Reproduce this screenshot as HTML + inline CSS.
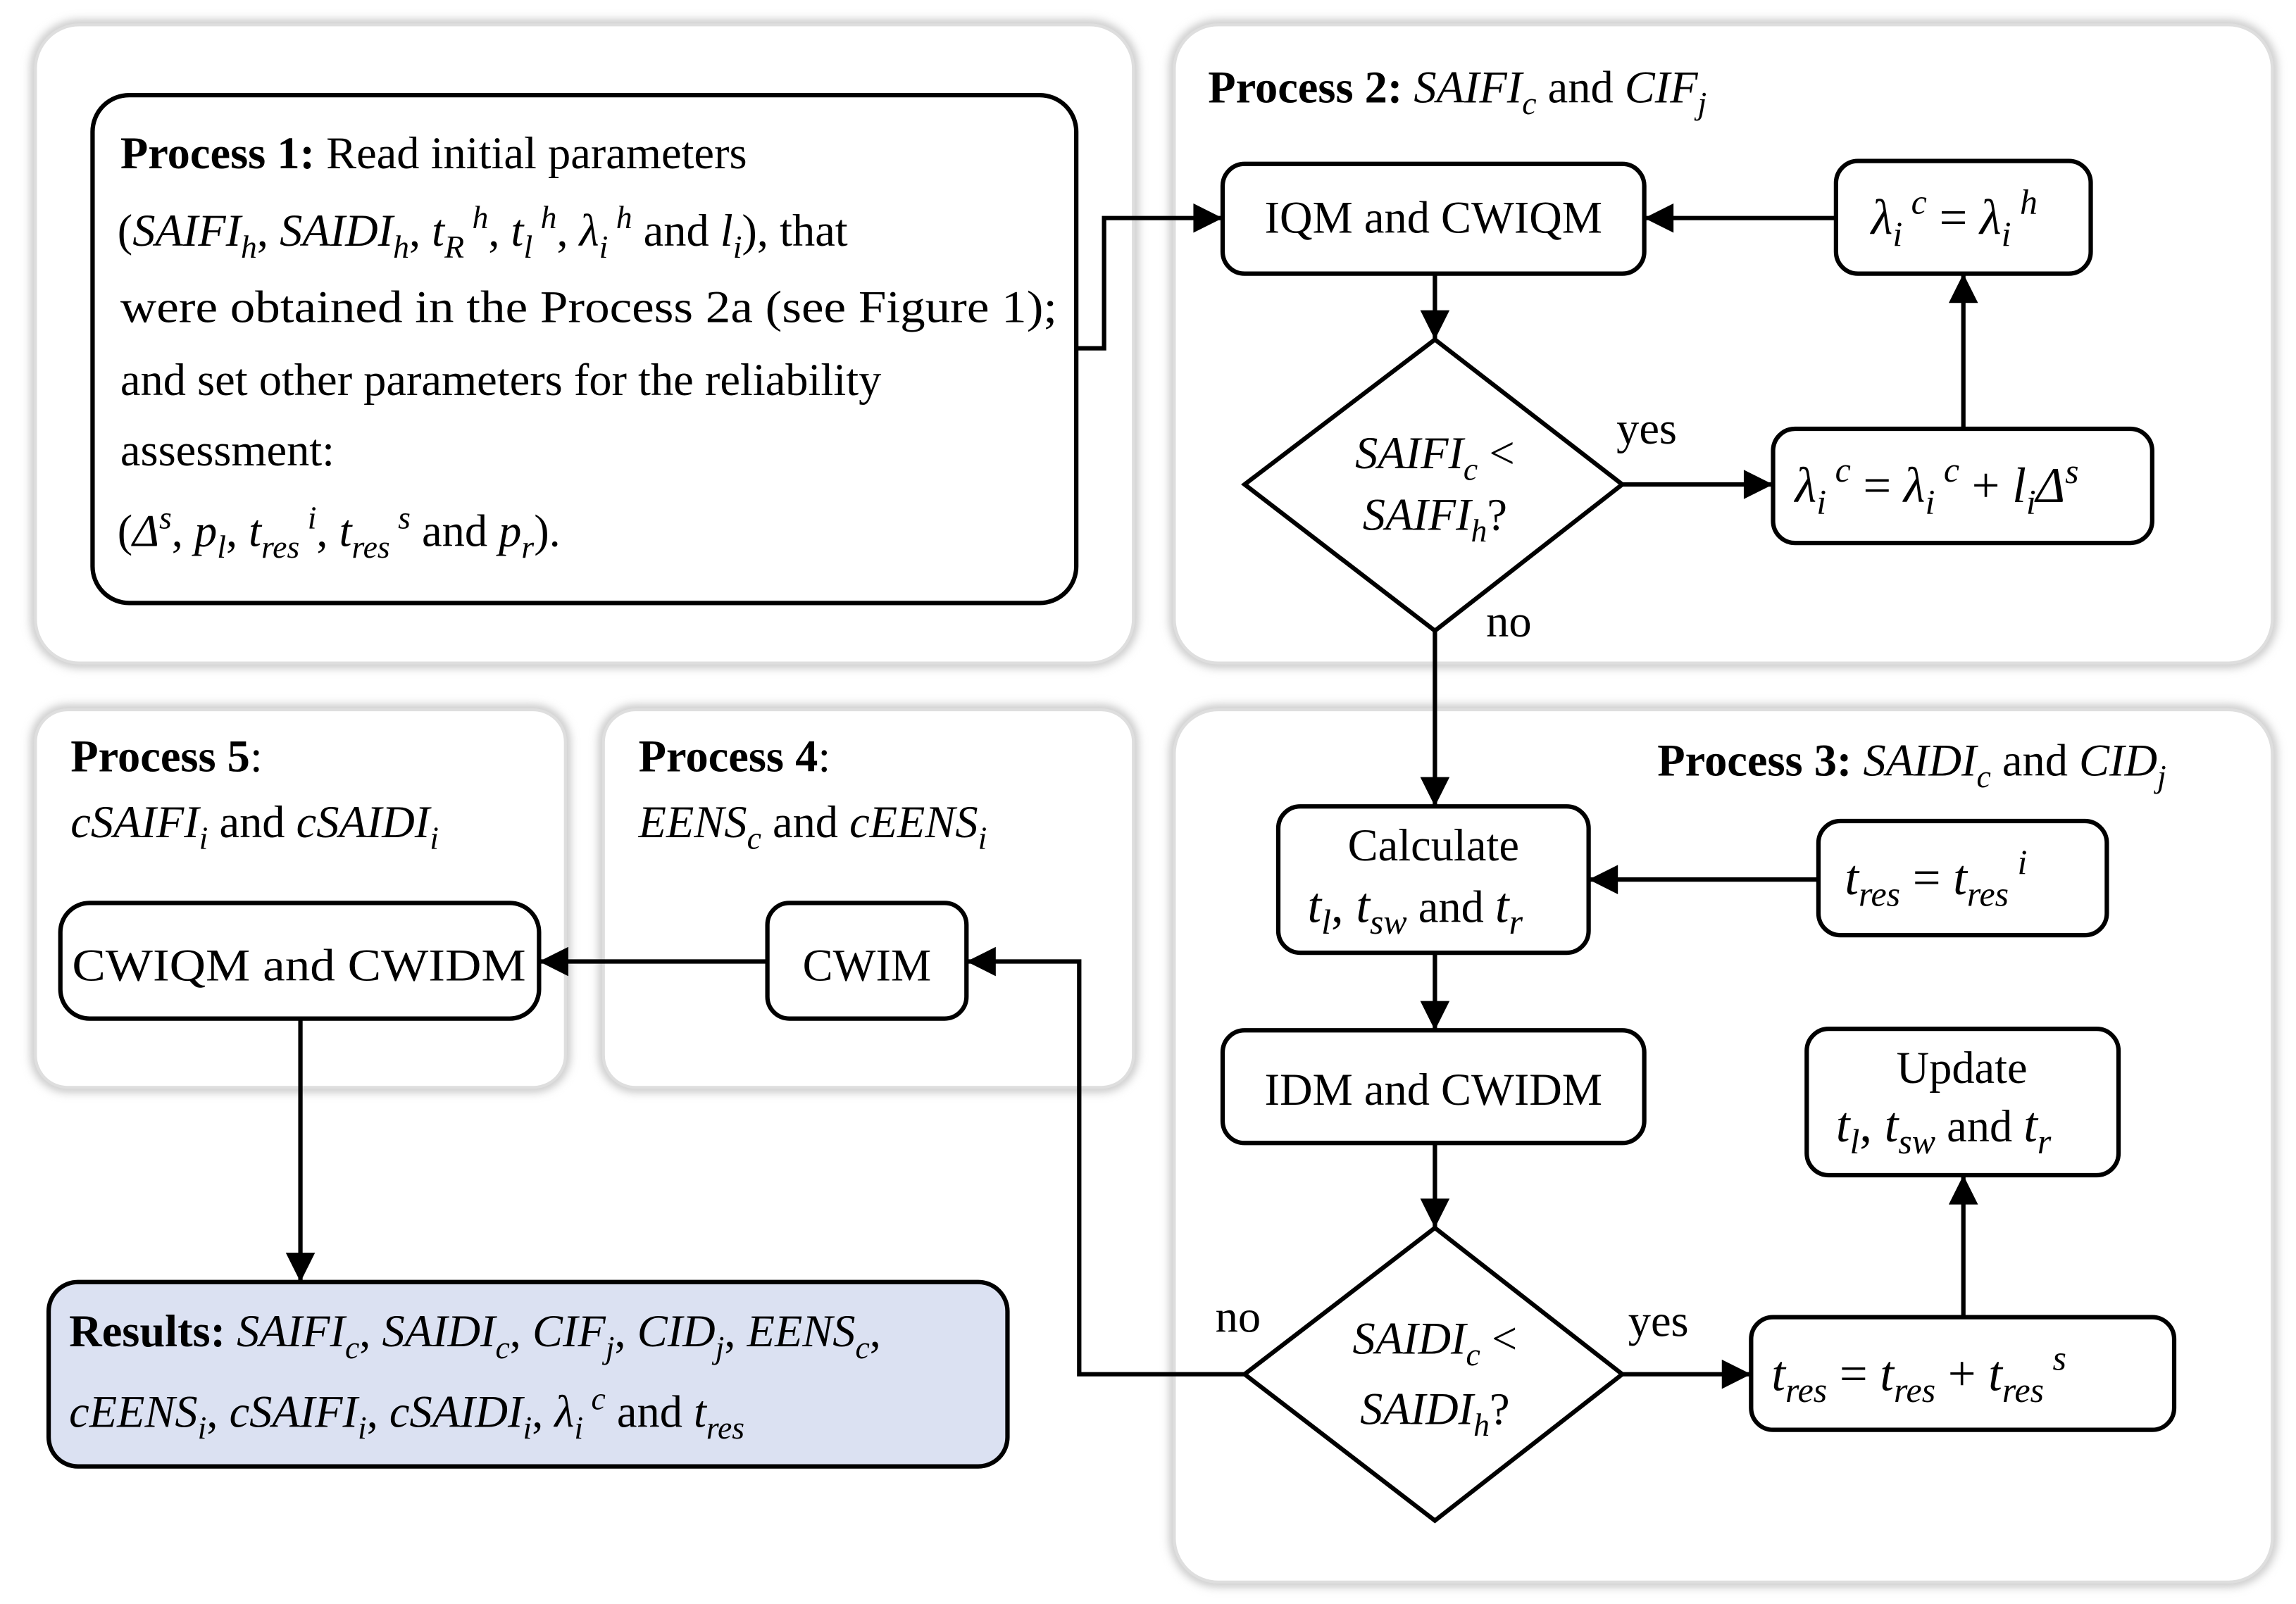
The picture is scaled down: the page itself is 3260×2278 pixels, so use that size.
<!DOCTYPE html>
<html><head><meta charset="utf-8"><style>
html,body{margin:0;padding:0;background:#fff;}
svg{display:block;}
text{font-family:"Liberation Serif",serif;font-size:31px;fill:#000;}
.i{font-style:italic;}
.b{font-weight:bold;}
.s{font-size:22px;}
.m{font-size:34px;}
.m .s{font-size:24px;}
</style></head><body>
<svg width="3260" height="2278" viewBox="0 0 1568 1096" xmlns="http://www.w3.org/2000/svg">
<defs>
<filter id="sh" x="-5%" y="-5%" width="110%" height="110%"><feGaussianBlur stdDeviation="3"/></filter>
<marker id="ar" viewBox="0 0 10 10" refX="10" refY="5" markerWidth="22" markerHeight="20" markerUnits="userSpaceOnUse" orient="auto"><path d="M0,0L10,5L0,10z" fill="#000"/></marker>
</defs>
<g fill="none" stroke="#c8c8c8" stroke-width="7" filter="url(#sh)">
<rect x="24" y="17" width="750" height="436" rx="30"/>
<rect x="802" y="17" width="750" height="436" rx="30"/>
<rect x="24" y="485" width="362" height="258" rx="22"/>
<rect x="412" y="485" width="362" height="258" rx="22"/>
<rect x="802" y="485" width="750" height="596" rx="30"/>
</g>
<g fill="#fff" stroke="#dedede" stroke-width="2">
<rect x="24" y="17" width="750" height="436" rx="30"/>
<rect x="802" y="17" width="750" height="436" rx="30"/>
<rect x="24" y="485" width="362" height="258" rx="22"/>
<rect x="412" y="485" width="362" height="258" rx="22"/>
<rect x="802" y="485" width="750" height="596" rx="30"/>
</g>
<g fill="#fff" stroke="#000" stroke-width="3">
<rect x="63" y="65" width="672" height="347" rx="25"/>
<rect x="835" y="112" width="288" height="75" rx="15"/>
<rect x="1254" y="110" width="174" height="77" rx="15"/>
<polygon points="980,232 1108,331 980,431 850,331"/>
<rect x="1211" y="293" width="259" height="78" rx="15"/>
<rect x="873" y="551" width="212" height="100" rx="15"/>
<rect x="1242" y="561" width="197" height="78" rx="15"/>
<rect x="835" y="704" width="288" height="77" rx="15"/>
<rect x="1234" y="703" width="213" height="100" rx="15"/>
<polygon points="980,839 1108,939 980,1039 850,939"/>
<rect x="1196" y="900" width="289" height="77" rx="15"/>
<rect x="41" y="617" width="327" height="79" rx="20"/>
<rect x="524" y="617" width="136" height="79" rx="15"/>
<rect x="33" y="876" width="655" height="126" rx="20" fill="#dbe1f2"/>
</g>
<g fill="none" stroke="#000" stroke-width="3" marker-end="url(#ar)">
<path d="M735,238H754V149H835"/>
<path d="M1254,149H1123"/>
<path d="M980,187V232"/>
<path d="M1108,331H1211"/>
<path d="M1341,293V187"/>
<path d="M980,431V551"/>
<path d="M1242,601H1085"/>
<path d="M980,651V704"/>
<path d="M980,781V839"/>
<path d="M1108,939H1196"/>
<path d="M1341,900V803"/>
<path d="M850,939H737V657H660"/>
<path d="M524,657H368"/>
<path d="M205,696V876"/>
</g>
<!-- Process 1 -->
<text x="82" y="115"><tspan class="b">Process 1:</tspan> Read initial parameters</text>
<text x="80" y="168">(<tspan class="i">SAIFI</tspan><tspan class="i s" dy="8">h</tspan><tspan dy="-8">, </tspan><tspan class="i">SAIDI</tspan><tspan class="i s" dy="8">h</tspan><tspan dy="-8">, </tspan><tspan class="i">t</tspan><tspan class="i s" dy="8">R</tspan><tspan class="i s" dy="-20"> h</tspan><tspan dy="12">, </tspan><tspan class="i">t</tspan><tspan class="i s" dy="8">l</tspan><tspan class="i s" dy="-20"> h</tspan><tspan dy="12">, </tspan><tspan class="i">λ</tspan><tspan class="i s" dy="8">i</tspan><tspan class="i s" dy="-20"> h</tspan><tspan dy="12"> and </tspan><tspan class="i">l</tspan><tspan class="i s" dy="8">i</tspan><tspan dy="-8">), that</tspan></text>
<text x="82" y="220" textLength="640" lengthAdjust="spacingAndGlyphs">were obtained in the Process 2a (see Figure 1);</text>
<text x="82" y="270">and set other parameters for the reliability</text>
<text x="82" y="318">assessment:</text>
<text x="80" y="373">(<tspan class="i">Δ</tspan><tspan class="i s" dy="-12">s</tspan><tspan dy="12">, </tspan><tspan class="i">p</tspan><tspan class="i s" dy="8">l</tspan><tspan dy="-8">,  </tspan><tspan class="i">t</tspan><tspan class="i s" dy="8">res</tspan><tspan class="i s" dy="-20"> i</tspan><tspan dy="12">, </tspan><tspan class="i">t</tspan><tspan class="i s" dy="8">res</tspan><tspan class="i s" dy="-20"> s</tspan><tspan dy="12"> and </tspan><tspan class="i">p</tspan><tspan class="i s" dy="8">r</tspan><tspan dy="-8">).</tspan></text>
<!-- Titles -->
<text x="825" y="70"><tspan class="b">Process 2:</tspan> <tspan class="i">SAIFI</tspan><tspan class="i s" dy="8">c</tspan><tspan dy="-8"> and </tspan><tspan class="i">CIF</tspan><tspan class="i s" dy="8">j</tspan></text>
<text x="1132" y="530"><tspan class="b">Process 3:</tspan> <tspan class="i">SAIDI</tspan><tspan class="i s" dy="8">c</tspan><tspan dy="-8"> and </tspan><tspan class="i">CID</tspan><tspan class="i s" dy="8">j</tspan></text>
<text x="48" y="527"><tspan class="b">Process 5</tspan>:</text>
<text x="48" y="572"><tspan class="i">cSAIFI</tspan><tspan class="i s" dy="8">i</tspan><tspan dy="-8"> and </tspan><tspan class="i">cSAIDI</tspan><tspan class="i s" dy="8">i</tspan></text>
<text x="436" y="527"><tspan class="b">Process 4</tspan>:</text>
<text x="436" y="572"><tspan class="i">EENS</tspan><tspan class="i s" dy="8">c</tspan><tspan dy="-8"> and </tspan><tspan class="i">cEENS</tspan><tspan class="i s" dy="8">i</tspan></text>
<!-- nodes -->
<text x="979" y="159" text-anchor="middle">IQM and CWIQM</text>
<text x="1278" y="160" class="m"><tspan class="i">λ</tspan><tspan class="i s" dy="8">i</tspan><tspan class="i s" dy="-22"> c</tspan><tspan dy="14"> = </tspan><tspan class="i">λ</tspan><tspan class="i s" dy="8">i</tspan><tspan class="i s" dy="-22"> h</tspan></text>
<text x="980" y="320" text-anchor="middle"><tspan class="i">SAIFI</tspan><tspan class="i s" dy="8">c</tspan><tspan dy="-8"> &lt;</tspan></text>
<text x="980" y="362" text-anchor="middle"><tspan class="i">SAIFI</tspan><tspan class="i s" dy="8">h</tspan><tspan dy="-8">?</tspan></text>
<text x="1226" y="343" class="m"><tspan class="i">λ</tspan><tspan class="i s" dy="8">i</tspan><tspan class="i s" dy="-22"> c</tspan><tspan dy="14"> = </tspan><tspan class="i">λ</tspan><tspan class="i s" dy="8">i</tspan><tspan class="i s" dy="-22"> c</tspan><tspan dy="14"> + </tspan><tspan class="i">l</tspan><tspan class="i s" dy="8">i</tspan><tspan class="i" dy="-8">Δ</tspan><tspan class="i s" dy="-13">s</tspan></text>
<text x="1104" y="303">yes</text>
<text x="1015" y="435">no</text>
<text x="979" y="588" text-anchor="middle">Calculate</text>
<text x="893" y="630" class="m"><tspan class="i">t</tspan><tspan class="i s" dy="8">l</tspan><tspan dy="-8">, </tspan><tspan class="i">t</tspan><tspan class="i s" dy="8">sw</tspan><tspan dy="-8" style="font-size:31px">  and </tspan><tspan class="i">t</tspan><tspan class="i s" dy="8">r</tspan></text>
<text x="1260" y="611" class="m"><tspan class="i">t</tspan><tspan class="i s" dy="8">res</tspan><tspan dy="-8">  = </tspan><tspan class="i">t</tspan><tspan class="i s" dy="8">res</tspan><tspan class="i s" dy="-22"> i</tspan></text>
<text x="979" y="755" text-anchor="middle">IDM and CWIDM</text>
<text x="1340" y="740" text-anchor="middle">Update</text>
<text x="1254" y="780" class="m"><tspan class="i">t</tspan><tspan class="i s" dy="8">l</tspan><tspan dy="-8">, </tspan><tspan class="i">t</tspan><tspan class="i s" dy="8">sw</tspan><tspan dy="-8" style="font-size:31px">  and </tspan><tspan class="i">t</tspan><tspan class="i s" dy="8">r</tspan></text>
<text x="980" y="925" text-anchor="middle"><tspan class="i">SAIDI</tspan><tspan class="i s" dy="8">c</tspan><tspan dy="-8"> &lt;</tspan></text>
<text x="980" y="973" text-anchor="middle"><tspan class="i">SAIDI</tspan><tspan class="i s" dy="8">h</tspan><tspan dy="-8">?</tspan></text>
<text x="1112" y="913">yes</text>
<text x="830" y="910">no</text>
<text x="1210" y="950" class="m"><tspan class="i">t</tspan><tspan class="i s" dy="8">res</tspan><tspan dy="-8"> = </tspan><tspan class="i">t</tspan><tspan class="i s" dy="8">res</tspan><tspan dy="-8"> + </tspan><tspan class="i">t</tspan><tspan class="i s" dy="8">res</tspan><tspan class="i s" dy="-22"> s</tspan></text>
<text x="204" y="670" text-anchor="middle" textLength="310" lengthAdjust="spacingAndGlyphs">CWIQM and CWIDM</text>
<text x="592" y="670" text-anchor="middle">CWIM</text>
<text x="47" y="920"><tspan class="b">Results:</tspan> <tspan class="i">SAIFI</tspan><tspan class="i s" dy="8">c</tspan><tspan dy="-8">, </tspan><tspan class="i">SAIDI</tspan><tspan class="i s" dy="8">c</tspan><tspan dy="-8">, </tspan><tspan class="i">CIF</tspan><tspan class="i s" dy="8">j</tspan><tspan dy="-8">, </tspan><tspan class="i">CID</tspan><tspan class="i s" dy="8">j</tspan><tspan dy="-8">, </tspan><tspan class="i">EENS</tspan><tspan class="i s" dy="8">c</tspan><tspan dy="-8">,</tspan></text>
<text x="47" y="975"><tspan class="i">cEENS</tspan><tspan class="i s" dy="8">i</tspan><tspan dy="-8">, </tspan><tspan class="i">cSAIFI</tspan><tspan class="i s" dy="8">i</tspan><tspan dy="-8">, </tspan><tspan class="i">cSAIDI</tspan><tspan class="i s" dy="8">i</tspan><tspan dy="-8">, </tspan><tspan class="i">λ</tspan><tspan class="i s" dy="8">i</tspan><tspan class="i s" dy="-20"> c</tspan><tspan dy="12"> and </tspan><tspan class="i">t</tspan><tspan class="i s" dy="8">res</tspan></text>
</svg>
</body></html>
